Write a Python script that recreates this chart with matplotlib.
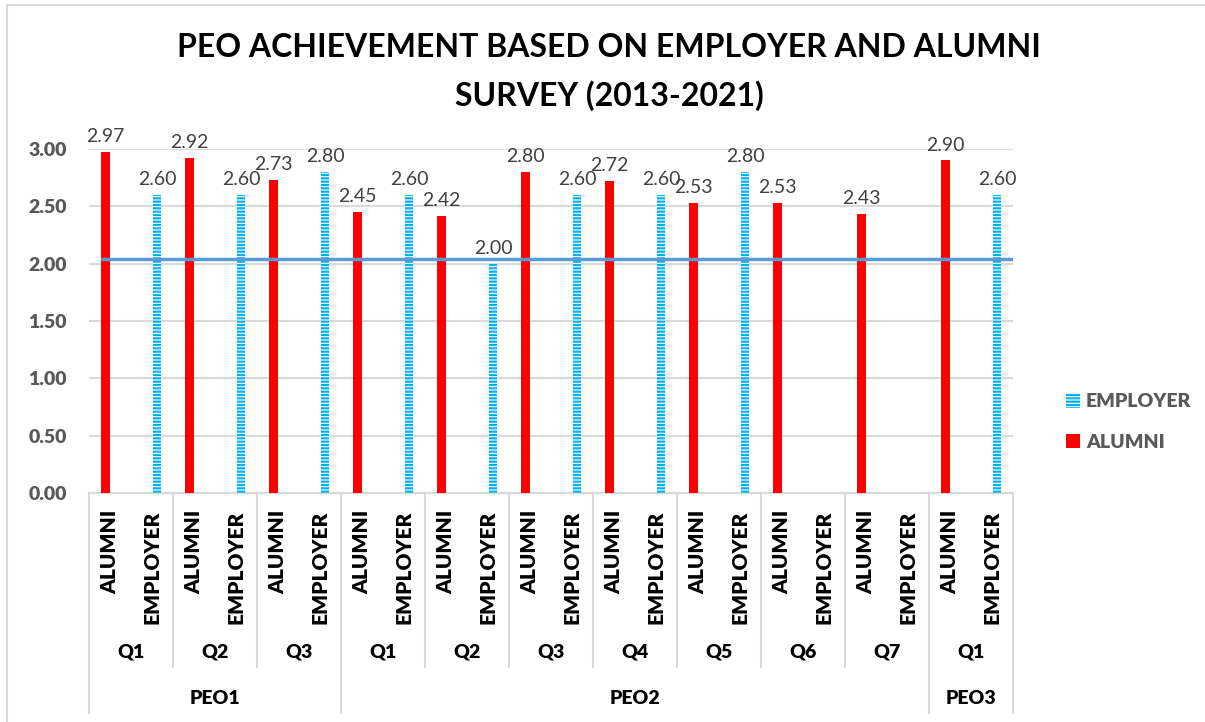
import numpy as np
import matplotlib
matplotlib.use("Agg")
from matplotlib import pyplot as plt
from matplotlib.patches import Patch, Rectangle

# data
questions = ["Q1", "Q2", "Q3", "Q1", "Q2", "Q3", "Q4", "Q5", "Q6", "Q7", "Q1"]
peo_groups = ["PEO1", "PEO2", "PEO3"]
peo_sizes = [3, 7, 1]
alumni = [2.97, 2.92, 2.73, 2.45, 2.42, 2.80, 2.72, 2.53, 2.53, 2.43, 2.90]
employer = [2.60, 2.60, 2.80, 2.60, 2.00, 2.60, 2.60, 2.80, np.nan, np.nan, 2.60]
sub_labels = ["ALUMNI", "EMPLOYER"]
target_line = 2.04

title = "PEO ACHIEVEMENT BASED ON EMPLOYER AND ALUMNI\nSURVEY (2013-2021)"

RED = "#FF0000"
CYAN = "#00B0F0"
GRID = "#D9D9D9"
TXT = "#595959"
FONT = ["Lato", "DejaVu Sans"]
HEAVY = "heavy"

plt.rcParams["font.family"] = FONT
plt.rcParams["hatch.linewidth"] = 1.6

fig = plt.figure(figsize=(12.05, 7.22), dpi=100)
ax = fig.add_axes([89 / 1205, 229 / 722, 924 / 1205, 344 / 722])

n = len(questions)
x_al = np.arange(n) * 2 - 0.1
x_em = np.arange(n) * 2 + 1 + 0.12
bw = 0.21

al_bars = ax.bar(x_al, alumni, width=bw, color=RED, linewidth=0, zorder=3)
em_bars = ax.bar(x_em, employer, width=bw, facecolor="white", edgecolor=CYAN,
                 hatch="-----", linewidth=0, zorder=3)

# value labels
for x, v in zip(x_al, alumni):
    ax.annotate(f"{v:.2f}", (x, v), xytext=(0, 5), textcoords="offset points",
                ha="center", va="bottom", fontsize=14, color="#404040", zorder=5)
for x, v in zip(x_em, employer):
    if np.isnan(v):
        continue
    ax.annotate(f"{v:.2f}", (x, v), xytext=(0, 5), textcoords="offset points",
                ha="center", va="bottom", fontsize=14, color="#404040", zorder=5)

# blue reference line
ax.hlines(target_line, -0.22, 2 * n - 0.5, color="#5B9BD5", linewidth=2.5, zorder=4)

ax.set_xlim(-0.5, 2 * n - 0.5)
ax.set_ylim(0, 3)
ax.set_yticks(np.arange(0, 3.01, 0.5))
ax.set_yticklabels([f"{t:.2f}" for t in np.arange(0, 3.01, 0.5)],
                   fontsize=14, fontweight=HEAVY, color=TXT)
ax.tick_params(axis="y", length=0, pad=16)
ax.set_xticks([])
ax.grid(axis="y", color=GRID, linewidth=1.5, zorder=0)
ax.set_axisbelow(True)
for s in ["top", "right", "left"]:
    ax.spines[s].set_visible(False)
ax.spines["bottom"].set_color(GRID)
ax.spines["bottom"].set_linewidth(1.5)

# multi level category axis
tr = ax.get_xaxis_transform()
for i in range(n):
    for j, lab in enumerate(sub_labels):
        ax.text(2 * i + j, -0.05, lab, rotation=90, ha="center", va="top",
                fontsize=15, fontweight=HEAVY, color="black", transform=tr)
    ax.text(2 * i + 0.5, -0.462, questions[i], ha="center", va="center",
            fontsize=14, fontweight=HEAVY, color="black", transform=tr)

edges = np.cumsum([0] + peo_sizes)
for i in range(n + 1):
    xb = 2 * i - 0.5
    bottom = -0.64 if i in edges else -0.506
    ax.plot([xb, xb], [0, bottom], color=GRID, linewidth=1.5, transform=tr,
            clip_on=False)
for k, name in enumerate(peo_groups):
    xc = (2 * edges[k] - 0.5 + 2 * edges[k + 1] - 0.5) / 2
    ax.text(xc, -0.596, name, ha="center", va="center", fontsize=14,
            fontweight=HEAVY, color="black", transform=tr)

# legend
handles = [Patch(facecolor="white", edgecolor=CYAN, hatch="-----", linewidth=0),
           Patch(facecolor=RED, linewidth=0)]
leg = fig.legend(handles, ["EMPLOYER", "ALUMNI"], loc="center left",
                 bbox_to_anchor=(1048 / 1205, 1 - 422 / 722), frameon=False,
                 handlelength=0.75, handleheight=0.75, handletextpad=0.3,
                 labelspacing=1.2, prop={"family": FONT, "weight": HEAVY, "size": 14})
for t in leg.get_texts():
    t.set_color(TXT)

fig.text(609 / 1205, 1 - 72 / 722, title, ha="center", va="center",
         fontsize=23, fontweight="bold", color="black", linespacing=1.7)

# chart border
fig.patches.append(Rectangle((7 / 1205, -0.1), 1.2, 1 - 5 / 722 + 0.1,
                             transform=fig.transFigure, fill=False,
                             edgecolor=GRID, linewidth=1.5))

fig.savefig("out.png", dpi=100)
